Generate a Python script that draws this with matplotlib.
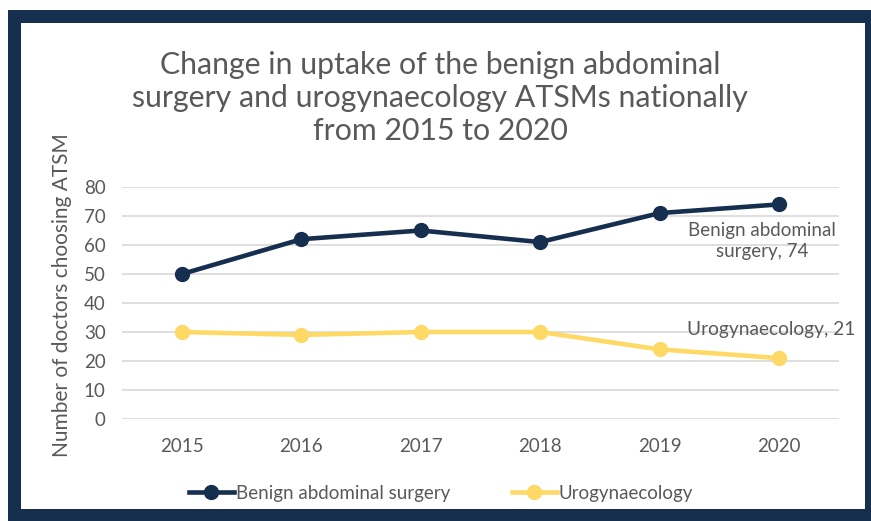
import matplotlib
matplotlib.use("Agg")
import matplotlib.pyplot as plt
from matplotlib.patches import Rectangle

years = ["2015", "2016", "2017", "2018", "2019", "2020"]
benign = [50, 62, 65, 61, 71, 74]
uro = [30, 29, 30, 30, 24, 21]
yticks = [0, 10, 20, 30, 40, 50, 60, 70, 80]

NAVY = "#172f4f"
YELLOW = "#ffd966"
GRAY = "#595959"
plt.rcParams['font.family'] = ['Lato', 'DejaVu Sans']

W, H = 871, 521
fig = plt.figure(figsize=(W/100, H/100), dpi=100)
fig.patch.set_facecolor("white")

def fr(x0, y0top, x1, y1top, color, z):
    fig.patches.append(Rectangle((x0/W, 1-y1top/H), (x1-x0)/W, (y1top-y0top)/H,
                                 transform=fig.transFigure, facecolor=color,
                                 edgecolor="none", zorder=z))
fr(8, 10, 871, 521, NAVY, -3)
fr(21, 23, 865, 509, "white", -2)

ax = fig.add_axes([122.3/W, 1-419/H, (838.7-122.3)/W, (419-187)/H])
ax.set_zorder(1)
ax.set_facecolor("none")
x = list(range(len(years)))
ax.plot(x, benign, color=NAVY, lw=3.3, marker="o", ms=10, label="Benign abdominal surgery", zorder=3)
ax.plot(x, uro, color=YELLOW, lw=3.3, marker="o", ms=10, label="Urogynaecology", zorder=3)
ax.set_xlim(-0.5, 5.5)
ax.set_ylim(0, 80)
ax.set_yticks(yticks)
ax.set_xticks(x)
ax.set_xticklabels(years)
ax.grid(axis="y", color="#d9d9d9", lw=1.2)
ax.set_axisbelow(True)
for s in ax.spines.values():
    s.set_visible(False)
ax.tick_params(length=0, labelsize=13.5, labelcolor=GRAY)
ax.tick_params(axis="x", pad=14)
ax.tick_params(axis="y", pad=12)

fig.text(62/W, 1-295/H, "Number of doctors choosing ATSM", rotation=90,
         ha="center", va="center", fontsize=15, color=GRAY)
fig.text(440/W, 1-98/H, "Change in uptake of the benign abdominal\nsurgery and urogynaecology ATSMs nationally\nfrom 2015 to 2020",
         ha="center", va="center", fontsize=21.8, color=GRAY, linespacing=1.22)

ax.annotate(f"Benign abdominal\nsurgery, {benign[-1]}", xy=(5, benign[-1]), xytext=(762/W, 1-241/H),
            textcoords="figure fraction", ha="center", va="center", fontsize=13.5, color=GRAY,
            linespacing=1.3)
ax.annotate(f"Urogynaecology, {uro[-1]}", xy=(5, uro[-1]), xytext=(771/W, 1-330/H),
            textcoords="figure fraction", ha="center", va="center", fontsize=13.8, color=GRAY)

fig.legend(loc="center", bbox_to_anchor=(441/W, 1-493/H), ncol=2, frameon=False,
           fontsize=13.5, labelcolor=GRAY, handlelength=2.4, columnspacing=3.3, handletextpad=0.1)

fig.savefig("out.png", dpi=100)
